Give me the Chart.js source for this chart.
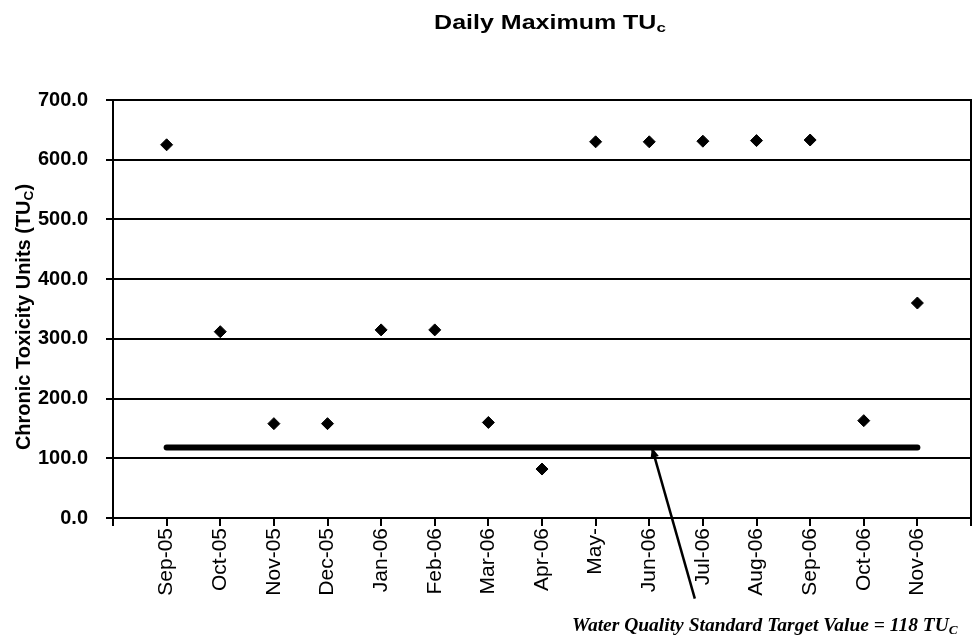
<!DOCTYPE html>
<html>
<head>
<meta charset="utf-8">
<script src="https://cdn.jsdelivr.net/npm/chart.js@4/dist/chart.umd.min.js"></script>
<style>
  html, body { margin: 0; padding: 0; background: #fff; }
  #wrap { position: relative; width: 978px; height: 636px; }
  #chart { position: absolute; left: 0; top: 0; }
  .lbl { position: absolute; color: #000; white-space: nowrap; }
  .lbl sub { font-size: 0.68em; vertical-align: -0.25em; line-height: 0; }
  #title { left: 400px; width: 300px; top: 12px; text-align: center;
           font: bold 20px "Liberation Sans", Arial, sans-serif; line-height: 20px;
           transform: scaleX(1.25); transform-origin: 50% 50%; }
  #ytitle { left: -177px; width: 400px; top: 307px; text-align: center;
            font: bold 20px "Liberation Sans", Arial, sans-serif; line-height: 20px;
            transform: rotate(-90deg); transform-origin: 50% 50%; }
  #note { left: 572px; top: 615px;
          font: bold italic 19.5px "Liberation Serif", "Times New Roman", serif; line-height: 19px; }
</style>
</head>
<body>
<div id="wrap">
  <canvas id="chart" width="978" height="636"></canvas>
  <div id="title" class="lbl">Daily Maximum TU<sub>c</sub></div>
  <div id="ytitle" class="lbl">Chronic Toxicity Units (TU<sub>C</sub>)</div>
  <div id="note" class="lbl">Water Quality Standard Target Value = 118 TU<sub>C</sub></div>
</div>
<script>
// months shown on the x axis
const MONTHS = ['Sep-05', 'Oct-05', 'Nov-05', 'Dec-05', 'Jan-06', 'Feb-06', 'Mar-06', 'Apr-06',
                'May-', 'Jun-06', 'Jul-06', 'Aug-06', 'Sep-06', 'Oct-06', 'Nov-06'];

// daily maximum TUc per month
const DAILY_MAX = [625, 312, 158, 158, 315, 315, 160, 82, 630, 630, 631, 632, 633, 163, 360];

// water quality standard target
const TARGET = 118;

// y axis ticks
const Y_MIN = 0;
const Y_MAX = 700;
const Y_STEP = 100;

// arrow from the note to the target line (axis units)
const ARROW_TIP = { x: 10.05, y: TARGET };
const ARROW_TAIL = { x: 10.85, y: -135 };

const pointData = DAILY_MAX.map((v, i) => ({ x: i + 1, y: v }));
const targetData = [{ x: 1, y: TARGET }, { x: MONTHS.length, y: TARGET }];

// box round the plot area, plus the arrow for the note
const framePlugin = {
    id: 'frame',
    afterDraw(chart) {
        const { ctx, chartArea: a, scales } = chart;
        ctx.save();
        ctx.strokeStyle = '#000';
        ctx.lineWidth = 2;
        ctx.strokeRect(a.left, a.top, a.right - a.left, a.bottom - a.top);

        const x1 = scales.x.getPixelForValue(ARROW_TAIL.x);
        const y1 = scales.y.getPixelForValue(ARROW_TAIL.y);
        const x2 = scales.x.getPixelForValue(ARROW_TIP.x);
        const y2 = scales.y.getPixelForValue(ARROW_TIP.y);
        ctx.lineWidth = 2.5;
        ctx.beginPath();
        ctx.moveTo(x1, y1);
        ctx.lineTo(x2, y2);
        ctx.stroke();
        const ang = Math.atan2(y2 - y1, x2 - x1);
        const len = 11;
        ctx.fillStyle = '#000';
        ctx.beginPath();
        ctx.moveTo(x2, y2);
        ctx.lineTo(x2 - len * Math.cos(ang - 0.4), y2 - len * Math.sin(ang - 0.4));
        ctx.lineTo(x2 - len * Math.cos(ang + 0.4), y2 - len * Math.sin(ang + 0.4));
        ctx.closePath();
        ctx.fill();
        ctx.restore();
    }
};

new Chart(document.getElementById('chart').getContext('2d'), {
    type: 'scatter',
    data: {
        datasets: [
            {
                label: 'Target',
                type: 'line',
                data: targetData,
                borderColor: '#000',
                borderWidth: 6,
                borderCapStyle: 'round',
                pointRadius: 0,
                fill: false,
                order: 2
            },
            {
                label: 'Daily Maximum',
                data: pointData,
                pointStyle: 'rectRot',
                pointRadius: 6,
                backgroundColor: '#000',
                borderColor: '#000',
                borderWidth: 1,
                order: 1
            }
        ]
    },
    options: {
        responsive: false,
        animation: false,
        layout: { padding: { left: 0, top: 100, right: 3, bottom: 0 } },
        plugins: {
            legend: { display: false },
            tooltip: { enabled: false }
        },
        scales: {
            x: {
                type: 'linear',
                min: 0,
                max: MONTHS.length + 1,
                afterFit: (s) => { s.height = 118; s.paddingLeft = 0; s.paddingRight = 0; },
                afterBuildTicks: (s) => {
                    s.ticks = Array.from({ length: MONTHS.length + 2 }, (_, i) => ({ value: i }));
                },
                grid: { drawOnChartArea: false, drawTicks: true, tickLength: 8, color: '#000', lineWidth: 2 },
                border: { display: true, color: '#000', width: 2 },
                ticks: {
                    autoSkip: false,
                    minRotation: 90,
                    maxRotation: 90,
                    padding: 2,
                    color: '#000',
                    font: { family: "'Liberation Sans', Arial, sans-serif", size: 21 },
                    callback: (v) => MONTHS[v - 1] || ''
                }
            },
            y: {
                min: Y_MIN,
                max: Y_MAX,
                afterFit: (s) => { s.width = 113; },
                grid: { color: '#000', lineWidth: 2, tickLength: 7 },
                border: { display: true, color: '#000', width: 2 },
                ticks: {
                    stepSize: Y_STEP,
                    padding: 18,
                    color: '#000',
                    font: { family: "'Liberation Sans', Arial, sans-serif", size: 20, weight: 'bold' },
                    callback: (v) => v.toFixed(1)
                }
            }
        }
    },
    plugins: [framePlugin]
});
</script>
</body>
</html>
